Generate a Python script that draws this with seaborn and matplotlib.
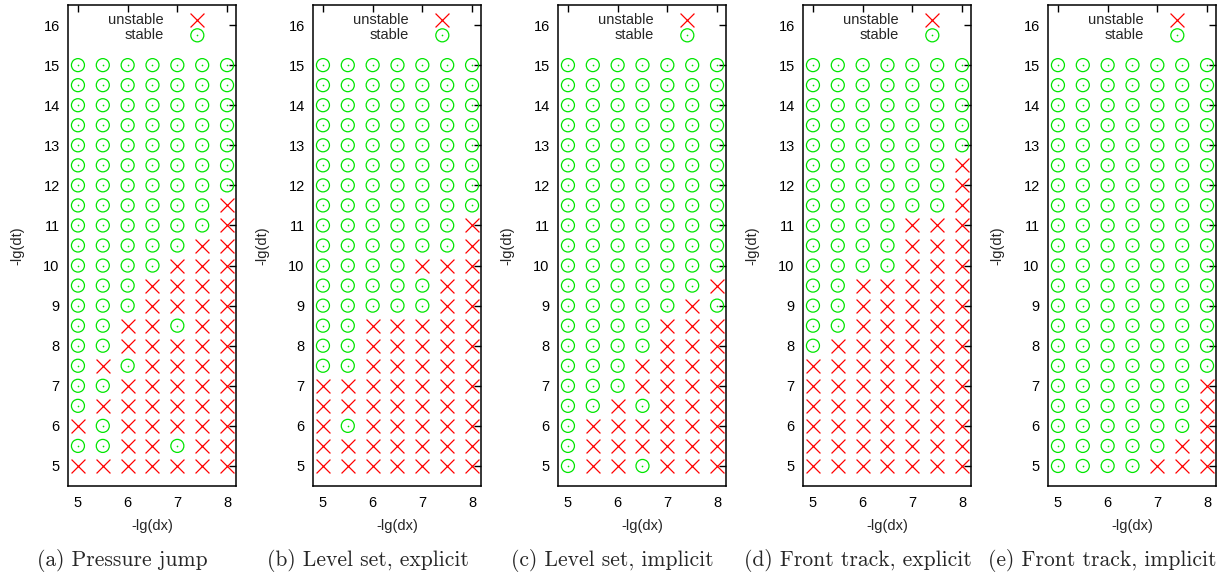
import numpy as np
import pandas as pd
import matplotlib
matplotlib.use("Agg")
import matplotlib.pyplot as plt
import seaborn as sns

# ---- data -------------------------------------------------------------
dx_values = [5.0, 5.5, 6.0, 6.5, 7.0, 7.5, 8.0]
# rows from top (dt = 15) to bottom (dt = 5)
dt_values = [15.0, 14.5, 14.0, 13.5, 13.0, 12.5, 12.0, 11.5, 11.0, 10.5,
             10.0, 9.5, 9.0, 8.5, 8.0, 7.5, 7.0, 6.5, 6.0, 5.5, 5.0]

# 'X' = unstable, 'o' = stable ; one string per dt row, one char per dx column
pressure_jump = [
    "ooooooo", "ooooooo", "ooooooo", "ooooooo", "ooooooo", "ooooooo", "ooooooo",
    "ooooooX", "ooooooX", "oooooXX", "ooooXXX", "oooXXXX", "oooXXXX",
    "ooXXoXX", "ooXXXXX", "oXoXXXX", "ooXXXXX", "oXXXXXX", "XoXXXXX",
    "ooXXoXX", "XXXXXXX",
]
level_set_explicit = [
    "ooooooo", "ooooooo", "ooooooo", "ooooooo", "ooooooo", "ooooooo", "ooooooo",
    "ooooooo", "ooooooX", "ooooooX", "ooooXXX", "oooooXX", "oooooXX",
    "ooXXXXX", "ooXXXXX", "ooXXXXX", "XXXXXXX", "XXXXXXX", "XoXXXXX",
    "XXXXXXX", "XXXXXXX",
]
level_set_implicit = [
    "ooooooo", "ooooooo", "ooooooo", "ooooooo", "ooooooo", "ooooooo", "ooooooo",
    "ooooooo", "ooooooo", "ooooooo", "ooooooo", "ooooooX", "oooooXo",
    "ooooXXX", "ooooXXX", "oooXXXX", "oooXXXX", "ooXoXXX", "oXXXXXX",
    "oXXXXXX", "oXXoXXX",
]
front_track_explicit = [
    "ooooooo", "ooooooo", "ooooooo", "ooooooo", "ooooooo", "ooooooX", "ooooooX",
    "ooooooX", "ooooXXX", "ooooXXX", "ooooXXX", "ooXXXXX", "ooXXXXX",
    "ooXXXXX", "oXXXXXX", "XXXXXXX", "XXXXXXX", "XXXXXXX", "XXXXXXX",
    "XXXXXXX", "XXXXXXX",
]
front_track_implicit = [
    "ooooooo", "ooooooo", "ooooooo", "ooooooo", "ooooooo", "ooooooo", "ooooooo",
    "ooooooo", "ooooooo", "ooooooo", "ooooooo", "ooooooo", "ooooooo",
    "ooooooo", "ooooooo", "ooooooo", "ooooooX", "ooooooX", "ooooooX",
    "oooooXX", "ooooXXX",
]

panels = [pressure_jump, level_set_explicit, level_set_implicit,
          front_track_explicit, front_track_implicit]
captions = ["(a) Pressure jump", "(b) Level set, explicit",
            "(c) Level set, implicit", "(d) Front track, explicit",
            "(e) Front track, implicit"]

x_ticks = [5, 6, 7, 8]
y_ticks = [5, 6, 7, 8, 9, 10, 11, 12, 13, 14, 15, 16]

RED = "#ff0000"
GREEN = "#00e600"

# ---- style ------------------------------------------------------------
sns.set_style("white")
plt.rcParams["font.family"] = ["Liberation Sans", "DejaVu Sans"]
plt.rcParams["axes.edgecolor"] = "black"
plt.rcParams["xtick.color"] = "black"
plt.rcParams["ytick.color"] = "black"

W, H = 1225, 576
fig = plt.figure(figsize=(W / 100, H / 100), dpi=100)


def to_frame(grid):
    rows = []
    for i, dt in enumerate(dt_values):
        for j, dx in enumerate(dx_values):
            rows.append({"dx": dx, "dt": dt,
                         "state": "unstable" if grid[i][j] == "X" else "stable"})
    return pd.DataFrame(rows)


for k, (grid, cap) in enumerate(zip(panels, captions)):
    left = 68 + 245 * k
    ax = fig.add_axes([left / W, (H - 486) / H, 168 / W, 481 / H])
    df = to_frame(grid)
    uns = df[df.state == "unstable"]
    st = df[df.state == "stable"]

    sns.scatterplot(data=uns, x="dx", y="dt", marker="x", color=RED, s=100,
                    linewidth=0.9, ax=ax, legend=False)
    sns.scatterplot(data=st, x="dx", y="dt", marker="o", s=88,
                    facecolor="none", edgecolor=GREEN, linewidth=0.9,
                    ax=ax, legend=False)
    sns.scatterplot(data=st, x="dx", y="dt", marker="o", s=1.5,
                    facecolor=GREEN, edgecolor=GREEN, linewidth=0,
                    ax=ax, legend=False)

    h_uns, h_circ, h_dot = ax.collections[0], ax.collections[1], ax.collections[2]
    ax.legend([h_uns, (h_circ, h_dot)], ["unstable", "stable"],
              loc="upper right", bbox_to_anchor=(0.9, 0.984),
              markerfirst=False, frameon=False, handlelength=3.0,
              handletextpad=0.8, labelspacing=0.1, borderpad=0,
              borderaxespad=0, fontsize=10.5)

    ax.set_xlim(4.8, 8.18)
    ax.set_ylim(4.5, 16.5)
    ax.set_xticks(x_ticks)
    ax.set_yticks(y_ticks)
    ax.tick_params(direction="in", top=True, right=True, length=5, width=1,
                   labelsize=10.5)
    ax.tick_params(axis="y", pad=6)
    ax.tick_params(axis="x", pad=7)
    for sp in ax.spines.values():
        sp.set_linewidth(1.1)
        sp.set_color("black")
    ax.set_xlabel("-lg(dx)", fontsize=10.5, labelpad=7)
    ax.set_ylabel("-lg(dt)", fontsize=10.5, labelpad=13.5)

    fig.text((left - 68 + 122.5) / W, (H - 561) / H, cap, ha="center",
             va="center", fontsize=15.5, family="cmr10")

fig.savefig("out.png", dpi=100)
